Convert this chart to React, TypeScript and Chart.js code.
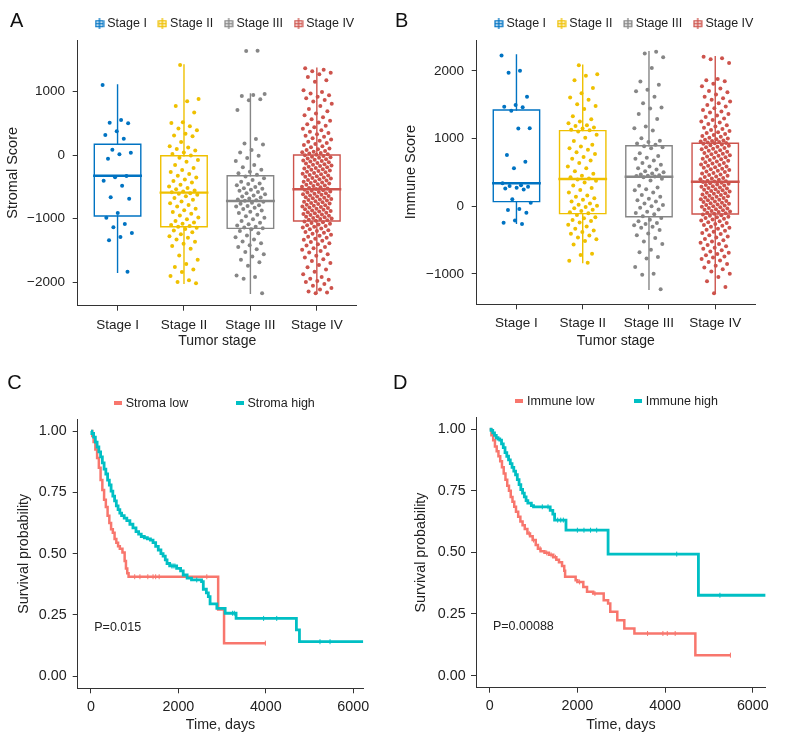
import React, { useEffect, useRef } from "react";
import { Chart, registerables } from "chart.js";

Chart.register(...registerables);

const FONT = '"Liberation Sans", Arial, Helvetica, sans-serif';
const TEXT = "#222222";
const AXIS = "#333333";
Chart.defaults.font.family = FONT;
Chart.defaults.color = TEXT;

// ---------- Box plot panels (A, B) ----------
const STAGES = ["Stage I", "Stage II", "Stage III", "Stage IV"];
const STAGE_COLORS = ["#0073C2", "#EFC000", "#868686", "#CD534C"];

// [min, q1, median, q3, max]
const stromalBoxStats = [
  [-1848, -961, -326, 170, 1102],
  [-2021, -1129, -593, -11, 1417],
  [-2178, -1155, -724, -326, 960],
  [-2178, -1039, -540, 0, 1365],
];
const stromalTicks = [-2000, -1000, 0, 1000];

const stromalStageI = [1102, 551, 509, 499, 373, 315, 257, 83, 36, 10, -58, -331, -352, -404, -483, -667, -688, -913, -987, -1087, -1139, -1228, -1291, -1344, -1838];
const stromalStageII = [
  1417, 880, 845, 772, 668, 517, 503, 452, 418, 391, 336, 308, 297, 204, 138, 117, 96, 72, 38, 14, -6,
  -42, -77, -108, -158, -203, -238, -266, -298, -327, -356, -384, -409, -433, -468, -497, -518, -541, -558, -574, -586, -601,
  -612, -627, -651, -679, -703, -732, -758, -787, -812, -846, -868, -897, -926, -953, -984, -1012, -1038, -1063, -1084, -1101, -1118, -1131,
  -1146, -1167, -1188, -1216, -1247, -1279, -1302, -1331, -1366, -1398, -1433, -1478, -1582, -1648, -1716, -1762, -1801, -1843, -1904, -1973, -1998, -2021,
];
const stromalStageIII = [
  1640, 1636, 962, 944, 931, 878, 861, 708, 252, 183, 166, 79, 41, -12, -48, -93, -158, -192, -231, -262, -288, -312,
  -338, -366, -394, -421, -447, -455, -478, -502, -523, -531, -547, -563, -582, -601, -618, -639, -654, -668, -686, -699, -711, -720,
  -736, -751, -769, -791, -802, -812, -829, -851, -872, -893, -914, -942, -966, -988, -1012, -1041, -1068, -1091, -1112, -1129, -1141, -1152,
  -1171, -1198, -1232, -1268, -1297, -1329, -1362, -1388, -1421, -1449, -1483, -1528, -1561, -1597, -1648, -1688, -1742, -1897, -1921, -1948, -2178,
];
const stromalStageIV = [
  1365, 1342, 1318, 1296, 1270, 1228, 1176, 1152, 1021, 993, 968, 941, 917, 894, 868, 843, 806, 771, 724, 688, 655, 627, 594, 563, 538, 511, 486, 462, 437, 414, 391, 367, 345, 326, 304, 287, 265, 243, 226, 208, 191, 173, 156, 139, 122, 104, 91, 77, 63, 51, 42, 31, 22, 12, 4,
  -5, -15, -27, -36, -44, -56, -65, -73, -86, -95, -103, -116, -124, -134, -145, -153, -164, -175, -183, -194, -205, -213, -223, -234, -244, -252, -264, -273, -282, -295, -303, -313, -323, -333, -342, -353, -363, -371, -383, -392, -402, -412, -421, -431, -441, -450, -461, -470, -480, -490, -500, -509, -518, -528, -537,
  -546, -556, -564, -574, -582, -591, -601, -609, -619, -627, -637, -646, -655, -664, -673, -682, -691, -700, -709, -718, -727, -737, -745, -755, -764, -773, -782, -791, -800, -809, -818, -828, -836, -846, -855, -864, -873, -882, -891, -900, -909, -918, -928, -937, -946, -955, -964, -973, -982, -991, -1000, -1009, -1018, -1027, -1036,
  -1046, -1058, -1069, -1081, -1094, -1106, -1117, -1131, -1142, -1158, -1170, -1183, -1197, -1212, -1226, -1241, -1255, -1272, -1286, -1303, -1318, -1334, -1352, -1369, -1388, -1406, -1425, -1447, -1468, -1490, -1512, -1537, -1561, -1588, -1613, -1642, -1671, -1702, -1733, -1768, -1802, -1838, -1877, -1921, -1948, -1966, -1983, -2001, -2032, -2058, -2093, -2119, -2148, -2165, -2178,
];

const immuneBoxStats = [
  [-250, 68, 340, 1422, 2235],
  [-833, -109, 403, 1117, 2082],
  [-1226, -154, 437, 895, 2284],
  [-1285, -114, 363, 930, 2210],
];
const immuneTicks = [-1000, 0, 1000, 2000];

const immuneStageI = [2228, 2003, 1973, 1619, 1496, 1471, 1462, 1412, 1152, 1148, 758, 659, 561, 340, 312, 298, 287, 272, 262, 248, 103, 53, -40, -55, -95, -212, -242, -262];
const immuneStageII = [
  2082, 1951, 1928, 1862, 1748, 1671, 1606, 1572, 1508, 1482, 1437, 1331, 1284, 1252, 1228, 1197, 1186, 1163, 1148, 1131, 1122,
  1104, 1058, 1012, 963, 908, 884, 857, 836, 798, 771, 728, 703, 676, 641, 588, 563, 517, 482, 451, 428, 409,
  396, 378, 352, 308, 271, 239, 203, 158, 142, 118, 97, 72, 41, 23, 8, -12, -31, -52, -71, -88, -104,
  -128, -163, -178, -203, -219, -241, -272, -297, -333, -358, -381, -407, -433, -462, -488, -512, -563, -702, -718, -803, -833,
];
const immuneStageIII = [
  2284, 2258, 2203, 2041, 1843, 1796, 1722, 1698, 1617, 1521, 1458, 1443, 1362, 1288, 1178, 1152, 1118, 1003, 968, 951, 929, 908,
  887, 872, 858, 782, 741, 718, 702, 677, 641, 613, 588, 561, 542, 519, 502, 483, 471, 458, 452, 446, 441,
  428, 407, 381, 302, 278, 253, 238, 203, 168, 141, 112, 88, 69, 42, 18, 2, -21, -48, -82, -101, -119, -148,
  -172, -198, -221, -248, -263, -279, -302, -318, -351, -402, -428, -468, -521, -558, -641, -679, -748, -772, -897, -998, -1012, -1226,
];
const immuneStageIV = [
  2210, 2187, 2172, 2118, 1880, 1862, 1846, 1808, 1773, 1741, 1702, 1684, 1652, 1618, 1597, 1573, 1548, 1521, 1496, 1472, 1449, 1423, 1401, 1386, 1362, 1341, 1318, 1297, 1273, 1252, 1237, 1214, 1196, 1178, 1161, 1143, 1127, 1112, 1094, 1081, 1066, 1052, 1039, 1026, 1013, 1002, 991, 981, 972, 963, 955, 948, 942, 936, 931,
  924, 914, 902, 893, 881, 871, 862, 849, 841, 829, 820, 807, 798, 788, 776, 767, 755, 745, 736, 724, 715, 702, 693, 683, 671, 662, 650, 641, 631, 618, 610, 598, 589, 577, 568, 555, 547, 535, 526, 513, 505, 492, 484, 471, 463, 450, 441, 431, 419, 410, 398, 390, 377, 369, 365,
  358, 348, 340, 331, 323, 313, 305, 297, 288, 279, 270, 262, 253, 244, 236, 227, 218, 210, 201, 192, 184, 175, 166, 157, 149, 140, 131, 123, 114, 105, 97, 88, 79, 71, 62, 53, 45, 36, 27, 18, 10, 1, -8, -16, -25, -34, -43, -51, -60, -69, -77, -86, -95, -103, -112,
  -121, -132, -141, -153, -162, -174, -186, -197, -209, -222, -236, -248, -261, -275, -288, -302, -316, -331, -347, -362, -378, -394, -411, -428, -446, -463, -482, -501, -521, -538, -556, -573, -592, -611, -629, -648, -667, -688, -705, -722, -741, -758, -779, -801, -823, -852, -878, -903, -931, -962, -998, -1043, -1108, -1192, -1285,
];

// ---------- Kaplan-Meier panels (C, D) ----------
const KM_LOW = "#F8766D";
const KM_HIGH = "#00BFC4";
const kmXTicks = [0, 2000, 4000, 6000];
const kmYTicks = [0, 0.25, 0.5, 0.75, 1];

const stromaLowT = [0, 30, 60, 100, 140, 180, 220, 260, 300, 340, 380, 420, 460, 500, 540, 580, 620, 660, 720, 770, 800, 830, 860, 2910, 3045, 4000];
const stromaLowS = [1, 0.98, 0.955, 0.925, 0.89, 0.85, 0.8, 0.76, 0.72, 0.69, 0.655, 0.625, 0.6, 0.585, 0.56, 0.545, 0.53, 0.52, 0.505, 0.47, 0.44, 0.42, 0.406, 0.272, 0.135, 0.135];
const stromaLowCensor = [1000, 1120, 1300, 1420, 1480, 1560, 2650, 3990];

const stromaHighT = [0, 20, 60, 100, 140, 180, 220, 260, 300, 340, 380, 420, 460, 500, 540, 580, 620, 660, 700, 760, 820, 890, 960, 1030, 1090, 1150, 1220, 1290, 1360, 1420, 1480, 1540, 1600, 1650, 1700, 1740, 1800, 1960, 2050, 2110, 2200, 2300, 2530, 2570, 2640, 2685, 2725, 2880, 3070, 3320, 4700, 4770, 6230];
const stromaHighS = [1, 0.99, 0.975, 0.955, 0.935, 0.915, 0.895, 0.87, 0.845, 0.825, 0.8, 0.78, 0.755, 0.735, 0.715, 0.695, 0.68, 0.665, 0.655, 0.645, 0.635, 0.62, 0.605, 0.59, 0.58, 0.57, 0.565, 0.56, 0.555, 0.545, 0.53, 0.515, 0.5, 0.49, 0.475, 0.46, 0.45, 0.44, 0.43, 0.413, 0.4, 0.393, 0.386, 0.355, 0.34, 0.325, 0.295, 0.277, 0.257, 0.236, 0.189, 0.141, 0.141];
const stromaHighCensor = [1850, 1880, 1920, 2420, 3240, 3280, 3950, 4250, 5240, 5470];

const immuneLowT = [0, 40, 80, 120, 160, 200, 240, 280, 320, 360, 400, 440, 480, 520, 560, 600, 650, 700, 750, 800, 860, 920, 980, 1050, 1100, 1160, 1250, 1350, 1450, 1520, 1580, 1650, 1700, 1720, 1960, 2000, 2135, 2220, 2360, 2600, 2700, 2750, 2910, 3070, 3300, 4690, 5490];
const immuneLowS = [1, 0.975, 0.955, 0.93, 0.91, 0.89, 0.87, 0.845, 0.82, 0.795, 0.77, 0.75, 0.725, 0.705, 0.685, 0.665, 0.645, 0.625, 0.61, 0.595, 0.577, 0.565, 0.55, 0.53, 0.515, 0.505, 0.498, 0.49, 0.48, 0.47, 0.46, 0.445, 0.425, 0.401, 0.387, 0.38, 0.36, 0.34, 0.333, 0.306, 0.293, 0.259, 0.225, 0.191, 0.171, 0.083, 0.083];
const immuneLowCensor = [900, 1000, 1150, 1300, 1400, 1500, 2050, 2400, 3600, 3950, 4050, 4230, 5490];

const immuneHighT = [0, 30, 70, 110, 150, 190, 230, 270, 310, 350, 390, 430, 470, 510, 550, 590, 630, 670, 710, 750, 790, 830, 870, 950, 1000, 1380, 1440, 1480, 1740, 2700, 4760, 6290];
const immuneHighS = [1, 0.995, 0.985, 0.975, 0.965, 0.96, 0.955, 0.94, 0.925, 0.905, 0.89, 0.875, 0.86, 0.845, 0.83, 0.815, 0.795, 0.775, 0.755, 0.74, 0.725, 0.71, 0.7, 0.69, 0.685, 0.67, 0.655, 0.631, 0.59, 0.493, 0.326, 0.326];
const immuneHighCensor = [1200, 1330, 1550, 1620, 1680, 2000, 2150, 2300, 2440, 4265, 5250];

const pStroma = "P=0.015";
const pImmune = "P=0.00088";

// ---------- helpers ----------
function jitter(i: number, g: number) {
  const f = (i * 0.6180339887 + g * 0.37) % 1;
  return (f - 0.5) * 0.45;
}
function fmtScore(v: number) {
  return v < 0 ? "\u2212" + Math.abs(v) : String(v);
}
function stepAt(T: number[], S: number[], t: number) {
  let v = S[0];
  for (let i = 0; i < T.length; i++) if (T[i] <= t) v = S[i];
  return v;
}
function boxIcon(color: string) {
  const c = document.createElement("canvas");
  c.width = 10;
  c.height = 11;
  const x = c.getContext("2d")!;
  x.strokeStyle = color;
  x.lineWidth = 1.3;
  x.beginPath();
  x.moveTo(5, 0);
  x.lineTo(5, 11);
  x.moveTo(1, 5.5);
  x.lineTo(9, 5.5);
  x.stroke();
  x.strokeRect(1.15, 2.65, 7.7, 5.7);
  return c;
}
function lineIcon(color: string) {
  const c = document.createElement("canvas");
  c.width = 8;
  c.height = 4;
  const x = c.getContext("2d")!;
  x.fillStyle = color;
  x.fillRect(0, 0, 8, 4);
  return c;
}
const legendAt = (x: number) => ({
  id: "legendAt",
  afterLayout(chart: any) {
    const lg = chart.legend;
    if (!lg) return;
    const pad = lg.options.labels.padding;
    const shift = x - (lg.left + pad);
    lg.left += shift;
    lg.right += shift;
  },
});
const textAt = (text: string, t: number, s: number) => ({
  id: "textAt",
  afterDatasetsDraw(chart: any) {
    const { ctx, scales } = chart;
    ctx.save();
    ctx.font = "12.5px " + FONT;
    ctx.fillStyle = TEXT;
    ctx.textAlign = "left";
    ctx.textBaseline = "middle";
    ctx.fillText(text, scales.x.getPixelForValue(t), scales.y.getPixelForValue(s));
    ctx.restore();
  },
});

function axisCommon(tickLen: number) {
  return {
    grid: { display: true, drawOnChartArea: false, drawTicks: true, tickLength: tickLen, color: AXIS, lineWidth: 1 },
    border: { display: true, color: AXIS, width: 1 },
  };
}

function boxConfig(o: any) {
  const datasets: any[] = [];
  o.groups.forEach((vals: number[], g: number) => {
    datasets.push({
      data: vals.map((v, i) => ({ x: g + 1 + jitter(i, g), y: v })),
      pointRadius: 2,
      pointHoverRadius: 2,
      pointBackgroundColor: STAGE_COLORS[g],
      pointBorderWidth: 0,
      showLine: false,
      order: 0,
    });
  });
  o.stats.forEach((st: number[], g: number) => {
    const [mn, q1, md, q3, mx] = st;
    const c = g + 1;
    const w = 0.35;
    const color = STAGE_COLORS[g];
    const seg = (pts: any[], width: number) => ({
      data: pts,
      showLine: true,
      borderColor: color,
      borderWidth: width,
      borderJoinStyle: "miter",
      borderCapStyle: "square",
      pointRadius: 0,
      pointHoverRadius: 0,
      fill: false,
      order: 1,
    });
    datasets.push(seg([{ x: c - w, y: q1 }, { x: c + w, y: q1 }, { x: c + w, y: q3 }, { x: c - w, y: q3 }, { x: c - w, y: q1 }], 1.4));
    datasets.push(seg([{ x: c, y: q3 }, { x: c, y: mx }], 1.4));
    datasets.push(seg([{ x: c, y: q1 }, { x: c, y: mn }], 1.4));
    datasets.push(seg([{ x: c - w, y: md }, { x: c + w, y: md }], 2.4));
  });
  const icons = STAGE_COLORS.map(boxIcon);
  return {
    type: "scatter",
    data: { datasets },
    options: {
      responsive: false,
      animation: false,
      devicePixelRatio: 1,
      events: [],
      layout: { padding: o.padding },
      plugins: {
        tooltip: { enabled: false },
        legend: {
          display: true,
          position: "top",
          align: "start",
          labels: {
            usePointStyle: true,
            boxWidth: 3,
            padding: 14,
            font: { size: 12.5 },
            color: TEXT,
            generateLabels: () =>
              STAGES.map((s, i) => ({
                text: s,
                fillStyle: STAGE_COLORS[i],
                strokeStyle: STAGE_COLORS[i],
                fontColor: TEXT,
                lineWidth: 0,
                pointStyle: icons[i],
                hidden: false,
                datasetIndex: i,
              })),
          },
        },
      },
      scales: {
        x: {
          type: "linear",
          min: 0.4,
          max: 4.6,
          afterBuildTicks: (s: any) => {
            s.ticks = [1, 2, 3, 4].map((v) => ({ value: v }));
          },
          afterFit: (s: any) => {
            s.height = o.xHeight;
          },
          ticks: {
            callback: (v: number) => STAGES[Math.round(v) - 1],
            font: { size: 13.5 },
            color: TEXT,
            padding: 6.2,
            maxRotation: 0,
            autoSkip: false,
          },
          title: { display: true, text: "Tumor stage", font: { size: 14 }, color: TEXT, padding: { top: 0, bottom: 5.6 } },
          ...axisCommon(5),
        },
        y: {
          type: "linear",
          min: o.yMin,
          max: o.yMax,
          afterBuildTicks: (s: any) => {
            s.ticks = o.yTicks.map((v: number) => ({ value: v }));
          },
          afterFit: (s: any) => {
            s.width = o.yWidth;
          },
          ticks: { callback: (v: number) => fmtScore(v), font: { size: 13.5 }, color: TEXT, padding: o.yTickPad },
          title: { display: true, text: o.yTitle, font: { size: 14.5 }, color: TEXT, padding: { top: 4, bottom: 0 } },
          ...axisCommon(5),
        },
      },
    },
    plugins: [legendAt(o.legendX)],
  };
}

function kmConfig(o: any) {
  const curve = (T: number[], S: number[], color: string, width: number, order: number) => ({
    data: T.map((t, i) => ({ x: t, y: S[i] })),
    showLine: true,
    stepped: "before",
    borderColor: color,
    borderWidth: width,
    borderJoinStyle: "miter",
    pointRadius: 0,
    pointHoverRadius: 0,
    fill: false,
    order,
  });
  const censor = (T: number[], S: number[], C: number[], color: string, order: number) => ({
    data: C.map((t) => ({ x: t, y: stepAt(T, S, t) })),
    showLine: false,
    pointStyle: "line",
    rotation: 90,
    pointRadius: 2.5,
    pointHoverRadius: 2.5,
    pointBorderColor: color,
    pointBorderWidth: 1,
    order,
  });
  const icons = [lineIcon(KM_LOW), lineIcon(KM_HIGH)];
  return {
    type: "scatter",
    data: {
      datasets: [
        curve(o.highT, o.highS, KM_HIGH, 2.8, 0),
        censor(o.highT, o.highS, o.highC, KM_HIGH, 0),
        curve(o.lowT, o.lowS, KM_LOW, 2.5, 2),
        censor(o.lowT, o.lowS, o.lowC, KM_LOW, 2),
      ],
    },
    options: {
      responsive: false,
      animation: false,
      devicePixelRatio: 1,
      events: [],
      layout: { padding: o.padding },
      plugins: {
        tooltip: { enabled: false },
        legend: {
          display: true,
          position: "top",
          align: "start",
          labels: {
            usePointStyle: true,
            boxWidth: 3,
            padding: o.legendPad,
            font: { size: 12.5 },
            color: TEXT,
            generateLabels: () =>
              o.legendLabels.map((s: string, i: number) => ({
                text: s,
                fillStyle: i ? KM_HIGH : KM_LOW,
                strokeStyle: i ? KM_HIGH : KM_LOW,
                fontColor: TEXT,
                lineWidth: 0,
                pointStyle: icons[i],
                hidden: false,
                datasetIndex: i,
              })),
          },
        },
      },
      scales: {
        x: {
          type: "linear",
          min: o.xMin,
          max: o.xMax,
          afterBuildTicks: (s: any) => {
            s.ticks = kmXTicks.map((v) => ({ value: v }));
          },
          afterFit: (s: any) => {
            s.height = o.xHeight;
          },
          ticks: { callback: (v: number) => String(v), font: { size: 14.3 }, color: TEXT, padding: 4.8, maxRotation: 0, autoSkip: false },
          title: { display: true, text: "Time, days", font: { size: 14.3 }, color: TEXT, padding: { top: 0, bottom: 1.4 } },
          ...axisCommon(5),
        },
        y: {
          type: "linear",
          min: -0.049,
          max: 1.048,
          afterBuildTicks: (s: any) => {
            s.ticks = kmYTicks.map((v) => ({ value: v }));
          },
          afterFit: (s: any) => {
            s.width = o.yWidth;
          },
          ticks: { callback: (v: number) => v.toFixed(2), font: { size: 14.3 }, color: TEXT, padding: o.yTickPad },
          title: { display: true, text: "Survival probability", font: { size: 14.3 }, color: TEXT, padding: { top: 4, bottom: 0 } },
          ...axisCommon(5),
        },
      },
    },
    plugins: [legendAt(o.legendX), textAt(o.pText, 75, 0.2)],
  };
}

const letterStyle = (left: number, top: number): React.CSSProperties => ({
  position: "absolute",
  left,
  top,
  fontFamily: FONT,
  fontSize: 20,
  lineHeight: "20px",
  color: "#111",
});

export default function App() {
  const refA = useRef<HTMLCanvasElement>(null);
  const refB = useRef<HTMLCanvasElement>(null);
  const refC = useRef<HTMLCanvasElement>(null);
  const refD = useRef<HTMLCanvasElement>(null);

  useEffect(() => {
    const charts: Chart[] = [];
    charts.push(
      new Chart(
        refA.current!,
        boxConfig({
          stats: stromalBoxStats,
          groups: [stromalStageI, stromalStageII, stromalStageIII, stromalStageIV],
          yMin: -2373,
          yMax: 1811,
          yTicks: stromalTicks,
          yTitle: "Stromal Score",
          legendX: 98,
          padding: { left: 0, right: 37.3, top: 3.5, bottom: 0 },
          yWidth: 77.7,
          xHeight: 49.3,
          yTickPad: 7.7,
        }) as any
      )
    );
    charts.push(
      new Chart(
        refB.current!,
        boxConfig({
          stats: immuneBoxStats,
          groups: [immuneStageI, immuneStageII, immuneStageIII, immuneStageIV],
          yMin: -1448,
          yMax: 2456,
          yTicks: immuneTicks,
          yTitle: "Immune Score",
          legendX: 103.2,
          padding: { left: 4.6, right: 33, top: 3.5, bottom: 0 },
          yWidth: 78.1,
          xHeight: 50.7,
          yTickPad: 7.7,
        }) as any
      )
    );
    charts.push(
      new Chart(
        refC.current!,
        kmConfig({
          lowT: stromaLowT,
          lowS: stromaLowS,
          lowC: stromaLowCensor,
          highT: stromaHighT,
          highS: stromaHighS,
          highC: stromaHighCensor,
          legendLabels: ["Stroma low", "Stroma high"],
          legendPad: 50,
          legendX: 116.4,
          pText: pStroma,
          xMin: -304,
          xMax: 6231,
          padding: { left: 11.6, right: 30.7, top: 6.8, bottom: 0 },
          yWidth: 66.1,
          xHeight: 46.7,
          yTickPad: 6,
        }) as any
      )
    );
    charts.push(
      new Chart(
        refD.current!,
        kmConfig({
          lowT: immuneLowT,
          lowS: immuneLowS,
          lowC: immuneLowCensor,
          highT: immuneHighT,
          highS: immuneHighS,
          highC: immuneHighCensor,
          legendLabels: ["Immune low", "Immune high"],
          legendPad: 42,
          legendX: 123.85,
          pText: pImmune,
          xMin: -312,
          xMax: 6294,
          padding: { left: 14.6, right: 22.3, top: 12.8, bottom: 0 },
          yWidth: 67.4,
          xHeight: 47.3,
          yTickPad: 5.3,
        }) as any
      )
    );
    return () => charts.forEach((c) => c.destroy());
  }, []);

  const cv = (left: number, top: number, w: number, h: number): React.CSSProperties => ({
    position: "absolute",
    left,
    top,
    width: w,
    height: h,
  });

  return (
    <div style={{ position: "absolute", left: 0, top: 0, width: 788, height: 735, background: "#fff", overflow: "hidden" }}>
      <canvas ref={refA} width={394} height={355} style={cv(0, 0, 394, 355)} />
      <canvas ref={refB} width={394} height={355} style={cv(394, 0, 394, 355)} />
      <canvas ref={refC} width={394} height={395} style={cv(0, 340, 394, 395)} />
      <canvas ref={refD} width={394} height={395} style={cv(394, 340, 394, 395)} />
      <div style={letterStyle(10, 10)}>A</div>
      <div style={letterStyle(395, 10)}>B</div>
      <div style={letterStyle(7.3, 372.4)}>C</div>
      <div style={letterStyle(393, 372.4)}>D</div>
    </div>
  );
}
